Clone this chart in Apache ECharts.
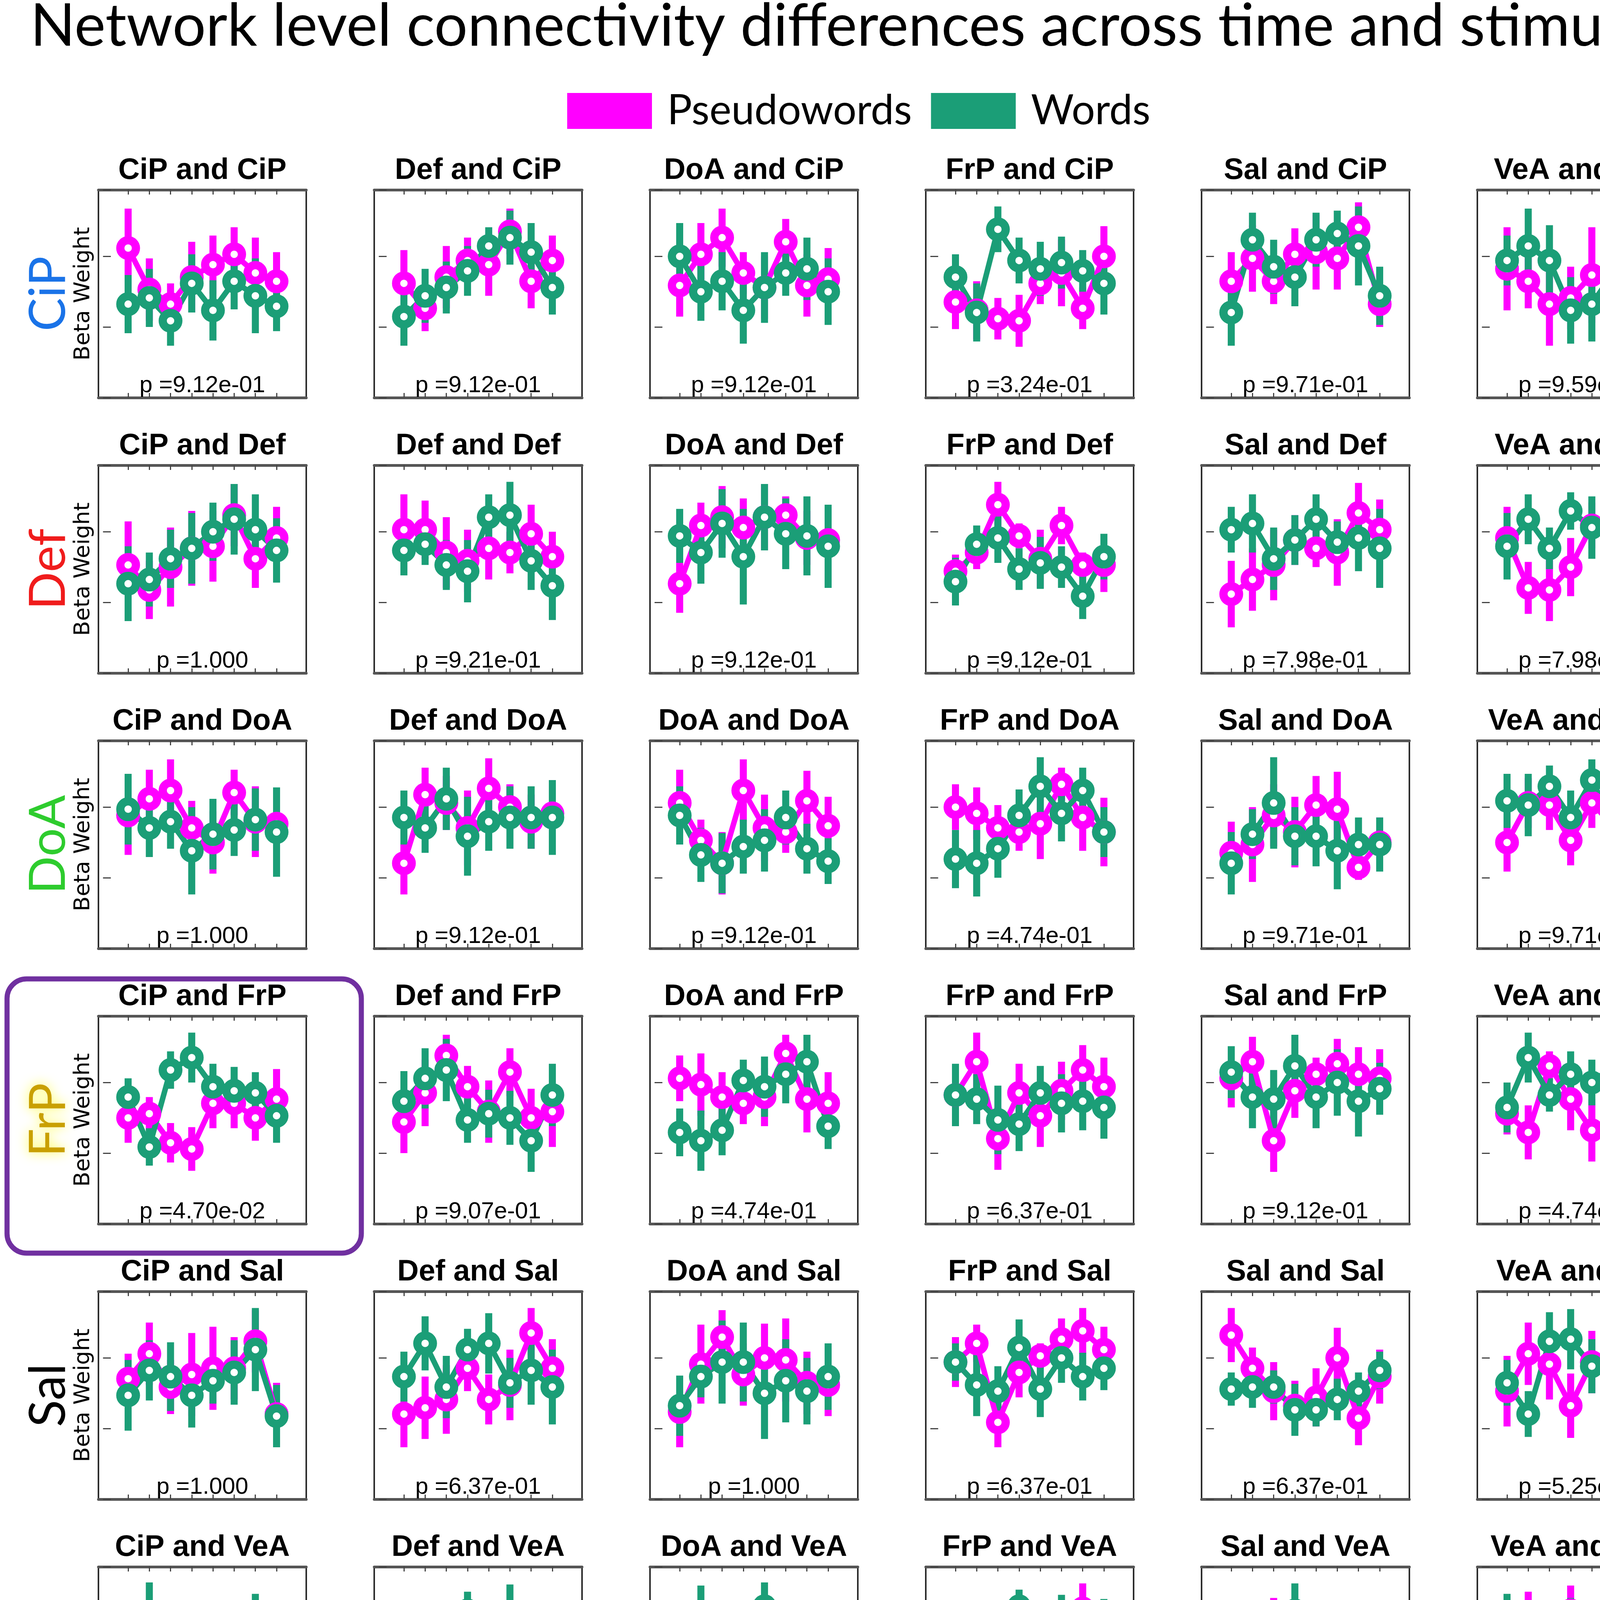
<!DOCTYPE html>
<html>
<head>
<meta charset="utf-8">
<script src="https://cdn.jsdelivr.net/npm/echarts@6.0.0/dist/echarts.min.js"></script>
<style>
  html, body { margin: 0; padding: 0; background: #fff; }
  #chart { width: 4317px; height: 4790px; }
</style>
</head>
<body>
<div id="chart"></div>
<script>
// networks, in column order (first name in a panel title) and row order (second name)
const networks = ["CiP", "Def", "DoA", "FrP", "Sal", "VeA"];
const networkColors = ["#1a73e8", "#f01c1c", "#2ecc2e", "#c9a000", "#000000", "#0b8585"];
const frames = [1, 2, 3, 4, 5, 6, 7, 8];

// p values, one row per network row
const pValues = [
    ["9.12e-01", "9.12e-01", "9.12e-01", "3.24e-01", "9.71e-01", "9.59e-01"],
    ["1.000", "9.21e-01", "9.12e-01", "9.12e-01", "7.98e-01", "7.98e-01"],
    ["1.000", "9.12e-01", "9.12e-01", "4.74e-01", "9.71e-01", "9.71e-01"],
    ["4.70e-02", "9.07e-01", "4.74e-01", "6.37e-01", "9.12e-01", "4.74e-01"],
    ["1.000", "6.37e-01", "1.000", "6.37e-01", "6.37e-01", "5.25e-01"],
    ["1.000", "9.12e-01", "9.12e-01", "4.74e-01", "4.74e-01", "9.12e-01"],
];

// beta weights (panel-normalised), each row: one array of 8 frames per column network
const pseudoCiP = [
    [0.72, 0.52, 0.45, 0.58, 0.64, 0.69, 0.60, 0.56],
    [0.55, 0.43, 0.58, 0.66, 0.64, 0.80, 0.56, 0.66],
    [0.54, 0.69, 0.77, 0.60, 0.53, 0.75, 0.54, 0.57],
    [0.46, 0.42, 0.38, 0.37, 0.55, 0.60, 0.43, 0.68],
    [0.56, 0.67, 0.56, 0.69, 0.70, 0.67, 0.82, 0.45],
    [0.62, 0.56, 0.45, 0.48, 0.59, 0.53, 0.57, 0.68],
];
const wordsCiP = [
    [0.45, 0.48, 0.37, 0.55, 0.42, 0.56, 0.49, 0.44],
    [0.39, 0.49, 0.53, 0.61, 0.73, 0.77, 0.70, 0.53],
    [0.68, 0.51, 0.56, 0.42, 0.53, 0.60, 0.62, 0.51],
    [0.58, 0.41, 0.81, 0.66, 0.62, 0.65, 0.61, 0.55],
    [0.41, 0.76, 0.63, 0.58, 0.76, 0.79, 0.73, 0.49],
    [0.66, 0.73, 0.66, 0.42, 0.45, 0.60, 0.74, 0.50],
];
const pseudoDef = [
    [0.52, 0.40, 0.51, 0.60, 0.61, 0.76, 0.55, 0.65],
    [0.69, 0.69, 0.58, 0.54, 0.60, 0.58, 0.67, 0.56],
    [0.43, 0.71, 0.75, 0.70, 0.75, 0.76, 0.65, 0.64],
    [0.49, 0.58, 0.81, 0.66, 0.55, 0.71, 0.52, 0.52],
    [0.38, 0.45, 0.52, 0.64, 0.60, 0.58, 0.77, 0.69],
    [0.65, 0.41, 0.40, 0.51, 0.71, 0.63, 0.63, 0.59],
];
const wordsDef = [
    [0.43, 0.45, 0.55, 0.60, 0.68, 0.74, 0.69, 0.59],
    [0.59, 0.62, 0.52, 0.49, 0.75, 0.76, 0.54, 0.42],
    [0.66, 0.58, 0.72, 0.56, 0.75, 0.67, 0.66, 0.61],
    [0.44, 0.62, 0.65, 0.50, 0.53, 0.51, 0.37, 0.56],
    [0.69, 0.72, 0.55, 0.64, 0.74, 0.63, 0.65, 0.60],
    [0.61, 0.74, 0.60, 0.78, 0.70, 0.78, 0.67, 0.65],
];
const pseudoDoA = [
    [0.64, 0.72, 0.76, 0.58, 0.51, 0.75, 0.61, 0.60],
    [0.41, 0.74, 0.70, 0.58, 0.77, 0.68, 0.61, 0.65],
    [0.70, 0.52, 0.41, 0.76, 0.58, 0.56, 0.71, 0.59],
    [0.68, 0.65, 0.58, 0.56, 0.60, 0.79, 0.63, 0.56],
    [0.46, 0.50, 0.64, 0.56, 0.69, 0.67, 0.39, 0.51],
    [0.51, 0.70, 0.69, 0.52, 0.70, 0.59, 0.38, 0.62],
];
const wordsDoA = [
    [0.67, 0.58, 0.61, 0.47, 0.55, 0.57, 0.62, 0.56],
    [0.63, 0.58, 0.72, 0.54, 0.61, 0.63, 0.63, 0.63],
    [0.64, 0.45, 0.41, 0.49, 0.52, 0.63, 0.48, 0.42],
    [0.43, 0.41, 0.48, 0.64, 0.78, 0.65, 0.76, 0.56],
    [0.41, 0.55, 0.70, 0.54, 0.54, 0.47, 0.50, 0.50],
    [0.71, 0.69, 0.78, 0.63, 0.81, 0.60, 0.54, 0.55],
];
const pseudoFrP = [
    [0.51, 0.53, 0.39, 0.36, 0.58, 0.58, 0.51, 0.60],
    [0.49, 0.63, 0.81, 0.66, 0.54, 0.73, 0.51, 0.54],
    [0.70, 0.67, 0.61, 0.58, 0.61, 0.82, 0.60, 0.58],
    [0.62, 0.78, 0.41, 0.63, 0.52, 0.64, 0.74, 0.66],
    [0.70, 0.78, 0.40, 0.64, 0.72, 0.77, 0.72, 0.70],
    [0.53, 0.44, 0.76, 0.60, 0.45, 0.41, 0.74, 0.54],
];
const wordsFrP = [
    [0.61, 0.37, 0.74, 0.80, 0.66, 0.64, 0.63, 0.52],
    [0.59, 0.70, 0.74, 0.50, 0.53, 0.51, 0.40, 0.62],
    [0.44, 0.40, 0.45, 0.69, 0.66, 0.72, 0.78, 0.47],
    [0.62, 0.60, 0.50, 0.48, 0.63, 0.58, 0.59, 0.56],
    [0.73, 0.61, 0.60, 0.76, 0.61, 0.68, 0.59, 0.65],
    [0.56, 0.80, 0.62, 0.72, 0.68, 0.76, 0.74, 0.69],
];
const pseudoSal = [
    [0.58, 0.70, 0.54, 0.60, 0.63, 0.63, 0.76, 0.41],
    [0.41, 0.44, 0.48, 0.63, 0.48, 0.55, 0.80, 0.63],
    [0.42, 0.65, 0.78, 0.60, 0.68, 0.67, 0.56, 0.55],
    [0.66, 0.75, 0.37, 0.61, 0.69, 0.77, 0.81, 0.72],
    [0.79, 0.63, 0.52, 0.45, 0.49, 0.68, 0.39, 0.59],
    [0.52, 0.70, 0.65, 0.45, 0.66, 0.60, 0.47, 0.43],
];
const wordsSal = [
    [0.50, 0.62, 0.59, 0.50, 0.57, 0.61, 0.72, 0.40],
    [0.59, 0.75, 0.54, 0.72, 0.75, 0.56, 0.62, 0.54],
    [0.45, 0.59, 0.66, 0.66, 0.51, 0.57, 0.52, 0.59],
    [0.66, 0.55, 0.52, 0.73, 0.53, 0.68, 0.59, 0.63],
    [0.53, 0.54, 0.54, 0.43, 0.43, 0.48, 0.52, 0.62],
    [0.56, 0.41, 0.76, 0.77, 0.64, 0.71, 0.52, 0.67],
];
const pseudoVeA = [
    [0.63, 0.50, 0.49, 0.54, 0.60, 0.54, 0.54, 0.54],
    [0.65, 0.40, 0.43, 0.52, 0.58, 0.60, 0.55, 0.52],
    [0.44, 0.64, 0.61, 0.48, 0.60, 0.60, 0.35, 0.57],
    [0.56, 0.49, 0.66, 0.64, 0.51, 0.41, 0.80, 0.54],
    [0.46, 0.65, 0.74, 0.40, 0.55, 0.69, 0.45, 0.44],
    [0.68, 0.71, 0.63, 0.79, 0.60, 0.72, 0.70, 0.63],
];
const wordsVeA = [
    [0.67, 0.75, 0.58, 0.47, 0.44, 0.53, 0.68, 0.45],
    [0.65, 0.70, 0.59, 0.79, 0.60, 0.74, 0.61, 0.56],
    [0.64, 0.77, 0.72, 0.61, 0.81, 0.52, 0.44, 0.49],
    [0.59, 0.70, 0.63, 0.81, 0.68, 0.75, 0.67, 0.71],
    [0.52, 0.49, 0.62, 0.79, 0.53, 0.55, 0.42, 0.66],
    [0.70, 0.48, 0.41, 0.70, 0.54, 0.70, 0.71, 0.70],
];

// error bar half lengths, same layout
const pseudoErrCiP = [
    [0.19, 0.15, 0.10, 0.17, 0.14, 0.13, 0.17, 0.14],
    [0.16, 0.11, 0.15, 0.11, 0.15, 0.11, 0.13, 0.12],
    [0.15, 0.15, 0.14, 0.10, 0.15, 0.11, 0.15, 0.15],
    [0.13, 0.14, 0.10, 0.125, 0.10, 0.16, 0.10, 0.145],
    [0.14, 0.16, 0.11, 0.125, 0.18, 0.15, 0.12, 0.11],
    [0.20, 0.13, 0.20, 0.15, 0.23, 0.15, 0.16, 0.18],
];
const wordsErrCiP = [
    [0.14, 0.14, 0.12, 0.14, 0.145, 0.135, 0.18, 0.12],
    [0.14, 0.13, 0.125, 0.12, 0.09, 0.13, 0.14, 0.13],
    [0.16, 0.14, 0.14, 0.16, 0.17, 0.11, 0.15, 0.16],
    [0.11, 0.14, 0.11, 0.11, 0.13, 0.125, 0.10, 0.15],
    [0.16, 0.13, 0.13, 0.14, 0.13, 0.11, 0.19, 0.14],
    [0.12, 0.18, 0.17, 0.16, 0.18, 0.19, 0.15, 0.16],
];
const pseudoErrDef = [
    [0.21, 0.14, 0.19, 0.18, 0.17, 0.15, 0.14, 0.15],
    [0.17, 0.14, 0.17, 0.15, 0.15, 0.10, 0.14, 0.12],
    [0.14, 0.11, 0.15, 0.14, 0.16, 0.09, 0.13, 0.13],
    [0.08, 0.08, 0.11, 0.06, 0.14, 0.09, 0.06, 0.13],
    [0.16, 0.15, 0.17, 0.12, 0.09, 0.16, 0.145, 0.145],
    [0.15, 0.125, 0.15, 0.14, 0.11, 0.13, 0.13, 0.13],
];
const wordsErrDef = [
    [0.18, 0.13, 0.14, 0.17, 0.14, 0.17, 0.17, 0.155],
    [0.12, 0.10, 0.12, 0.15, 0.11, 0.16, 0.14, 0.165],
    [0.13, 0.15, 0.165, 0.23, 0.16, 0.17, 0.19, 0.20],
    [0.115, 0.09, 0.12, 0.10, 0.125, 0.10, 0.11, 0.11],
    [0.11, 0.14, 0.15, 0.12, 0.12, 0.10, 0.16, 0.19],
    [0.16, 0.12, 0.10, 0.09, 0.15, 0.13, 0.19, 0.17],
];
const pseudoErrDoA = [
    [0.19, 0.14, 0.15, 0.13, 0.15, 0.11, 0.17, 0.15],
    [0.15, 0.13, 0.13, 0.18, 0.145, 0.11, 0.13, 0.13],
    [0.16, 0.10, 0.15, 0.15, 0.16, 0.10, 0.145, 0.14],
    [0.11, 0.125, 0.11, 0.09, 0.17, 0.08, 0.16, 0.165],
    [0.15, 0.18, 0.15, 0.17, 0.14, 0.18, 0.06, 0.12],
    [0.14, 0.12, 0.12, 0.12, 0.12, 0.13, 0.12, 0.10],
];
const wordsErrDoA = [
    [0.17, 0.14, 0.13, 0.21, 0.17, 0.125, 0.15, 0.215],
    [0.13, 0.12, 0.15, 0.19, 0.14, 0.15, 0.15, 0.18],
    [0.14, 0.13, 0.145, 0.13, 0.15, 0.13, 0.12, 0.11],
    [0.14, 0.16, 0.14, 0.125, 0.14, 0.135, 0.11, 0.12],
    [0.15, 0.12, 0.22, 0.14, 0.145, 0.185, 0.13, 0.13],
    [0.13, 0.15, 0.10, 0.13, 0.10, 0.12, 0.095, 0.11],
];
const pseudoErrFrP = [
    [0.12, 0.08, 0.095, 0.105, 0.12, 0.12, 0.11, 0.145],
    [0.15, 0.16, 0.10, 0.10, 0.15, 0.115, 0.14, 0.17],
    [0.11, 0.15, 0.12, 0.10, 0.14, 0.09, 0.16, 0.15],
    [0.14, 0.14, 0.15, 0.14, 0.15, 0.14, 0.12, 0.14],
    [0.14, 0.12, 0.15, 0.13, 0.08, 0.12, 0.13, 0.14],
    [0.10, 0.13, 0.07, 0.15, 0.15, 0.155, 0.14, 0.16],
];
const wordsErrFrP = [
    [0.09, 0.09, 0.09, 0.12, 0.11, 0.115, 0.10, 0.13],
    [0.145, 0.145, 0.15, 0.11, 0.115, 0.13, 0.15, 0.15],
    [0.115, 0.145, 0.12, 0.10, 0.145, 0.14, 0.13, 0.11],
    [0.15, 0.12, 0.165, 0.13, 0.13, 0.14, 0.14, 0.15],
    [0.125, 0.15, 0.14, 0.15, 0.15, 0.16, 0.17, 0.125],
    [0.12, 0.12, 0.08, 0.11, 0.11, 0.12, 0.16, 0.14],
];
const pseudoErrSal = [
    [0.12, 0.15, 0.13, 0.20, 0.20, 0.15, 0.15, 0.15],
    [0.16, 0.15, 0.165, 0.11, 0.12, 0.17, 0.12, 0.14],
    [0.17, 0.19, 0.13, 0.15, 0.165, 0.20, 0.15, 0.15],
    [0.12, 0.09, 0.12, 0.12, 0.06, 0.10, 0.11, 0.11],
    [0.13, 0.10, 0.14, 0.12, 0.14, 0.145, 0.13, 0.13],
    [0.17, 0.15, 0.17, 0.155, 0.15, 0.10, 0.15, 0.18],
];
const wordsErrSal = [
    [0.17, 0.145, 0.165, 0.155, 0.11, 0.155, 0.20, 0.15],
    [0.12, 0.13, 0.15, 0.10, 0.145, 0.12, 0.165, 0.18],
    [0.145, 0.10, 0.20, 0.19, 0.22, 0.20, 0.16, 0.16],
    [0.09, 0.15, 0.12, 0.135, 0.135, 0.12, 0.115, 0.105],
    [0.08, 0.10, 0.08, 0.125, 0.08, 0.10, 0.09, 0.09],
    [0.11, 0.11, 0.14, 0.145, 0.13, 0.11, 0.16, 0.165],
];
const pseudoErrVeA = [
    [0.21, 0.16, 0.20, 0.18, 0.21, 0.23, 0.19, 0.19],
    [0.15, 0.13, 0.18, 0.17, 0.15, 0.13, 0.19, 0.145],
    [0.13, 0.15, 0.13, 0.14, 0.14, 0.11, 0.10, 0.10],
    [0.12, 0.10, 0.11, 0.14, 0.14, 0.16, 0.12, 0.15],
    [0.13, 0.12, 0.11, 0.14, 0.09, 0.105, 0.13, 0.13],
    [0.15, 0.17, 0.15, 0.12, 0.15, 0.18, 0.16, 0.165],
];
const wordsErrVeA = [
    [0.15, 0.175, 0.22, 0.215, 0.165, 0.21, 0.19, 0.185],
    [0.18, 0.14, 0.14, 0.09, 0.13, 0.175, 0.20, 0.17],
    [0.15, 0.14, 0.09, 0.115, 0.115, 0.13, 0.115, 0.115],
    [0.13, 0.11, 0.09, 0.08, 0.075, 0.115, 0.14, 0.135],
    [0.13, 0.13, 0.12, 0.13, 0.10, 0.10, 0.115, 0.12],
    [0.17, 0.175, 0.16, 0.15, 0.145, 0.165, 0.165, 0.215],
];

const pseudoRows = [pseudoCiP, pseudoDef, pseudoDoA, pseudoFrP, pseudoSal, pseudoVeA];
const wordsRows = [wordsCiP, wordsDef, wordsDoA, wordsFrP, wordsSal, wordsVeA];
const pseudoErrRows = [pseudoErrCiP, pseudoErrDef, pseudoErrDoA, pseudoErrFrP, pseudoErrSal, pseudoErrVeA];
const wordsErrRows = [wordsErrCiP, wordsErrDef, wordsErrDoA, wordsErrFrP, wordsErrSal, wordsErrVeA];

const MAGENTA = "#ff00ff";
const GREEN = "#1b9e77";

const chart = echarts.init(document.getElementById("chart"), null, { renderer: "canvas" });

// panel geometry
const boxLeft0 = 252, boxTop0 = 486, stepX = 706, stepY = 705, boxSize = 532;

function errorBars(name, color, vals, errs, xi, yi) {
    return {
        type: "custom",
        name: name,
        xAxisIndex: xi,
        yAxisIndex: yi,
        silent: true,
        data: frames.map((f, k) => [f, vals[k] - errs[k], vals[k] + errs[k]]),
        encode: { x: 0, y: [1, 2] },
        renderItem: function (params, api) {
            const lo = api.coord([api.value(0), api.value(1)]);
            const hi = api.coord([api.value(0), api.value(2)]);
            return {
                type: "line",
                shape: { x1: lo[0], y1: lo[1], x2: hi[0], y2: hi[1] },
                style: { stroke: color, lineWidth: 18 },
            };
        },
    };
}

function meanLine(name, color, vals, xi, yi) {
    return {
        type: "line",
        name: name,
        xAxisIndex: xi,
        yAxisIndex: yi,
        silent: true,
        data: frames.map((f, k) => [f, vals[k]]),
        symbol: "circle",
        symbolSize: 40,
        showSymbol: true,
        lineStyle: { color: color, width: 14 },
        itemStyle: { color: "#fff", borderColor: color, borderWidth: 21 },
    };
}

const grids = [], xAxes = [], yAxes = [], series = [], texts = [];

function text(x, y, str, opts, rotation) {
    texts.push({
        type: "text",
        x: x,
        y: y,
        rotation: rotation || 0,
        z: 100,
        style: Object.assign({ text: str, align: "center", verticalAlign: "middle", fill: "#000" }, opts),
    });
}

const tickStyle = { color: "#444", width: 3 };

for (let r = 0; r < 6; r++) {
    for (let c = 0; c < 6; c++) {
        const i = r * 6 + c;
        const left = boxLeft0 + c * stepX;
        const top = boxTop0 + r * stepY;
        grids.push({ left: left, top: top, width: boxSize, height: boxSize, show: true, borderColor: "#2b2b2b", borderWidth: 4, backgroundColor: "#fff" });
        // bottom axis (with frame labels on the last row) and a top axis carrying only ticks
        xAxes.push({
            gridIndex: i,
            type: "value",
            position: "bottom",
            min: -0.4,
            max: 9.4,
            axisLine: { show: true, onZero: false, lineStyle: { color: "#555", width: 7 } },
            axisTick: { show: true, inside: true, length: 12, customValues: frames, lineStyle: tickStyle },
            axisLabel: { show: r === 5, customValues: frames, margin: 10, fontSize: 40, fontFamily: "Liberation Sans", color: "#000" },
            splitLine: { show: false },
        });
        xAxes.push({
            gridIndex: i,
            type: "value",
            position: "top",
            min: -0.4,
            max: 9.4,
            axisLine: { show: true, onZero: false, lineStyle: { color: "#555", width: 7 } },
            axisTick: { show: true, inside: true, length: 12, customValues: frames, lineStyle: tickStyle },
            axisLabel: { show: false },
            splitLine: { show: false },
        });
        yAxes.push({
            gridIndex: i,
            type: "value",
            position: "left",
            min: 0,
            max: 1,
            interval: 0.34,
            axisLine: { show: false },
            axisTick: { show: true, inside: true, length: 10, lineStyle: tickStyle },
            axisLabel: { show: false },
            splitLine: { show: false },
        });
        yAxes.push({
            gridIndex: i,
            type: "value",
            position: "right",
            min: 0,
            max: 1,
            interval: 0.34,
            axisLine: { show: false },
            axisTick: { show: true, inside: true, length: 10, lineStyle: tickStyle },
            axisLabel: { show: false },
            splitLine: { show: false },
        });
        const xi = 2 * i, yi = 2 * i;
        series.push(errorBars("Pseudowords", MAGENTA, pseudoRows[r][c], pseudoErrRows[r][c], xi, yi));
        series.push(meanLine("Pseudowords", MAGENTA, pseudoRows[r][c], xi, yi));
        series.push(errorBars("Words", GREEN, wordsRows[r][c], wordsErrRows[r][c], xi, yi));
        series.push(meanLine("Words", GREEN, wordsRows[r][c], xi, yi));

        const cx = left + boxSize / 2;
        text(cx, top - 49, networks[c] + " and " + networks[r], { fontSize: 76, fontWeight: "bold", fontFamily: "Liberation Sans" });
        text(cx, top + boxSize - 31, "p =" + pValues[r][c], { fontSize: 60, fontFamily: "Liberation Sans" });
    }
    const midY = boxTop0 + r * stepY + boxSize / 2;
    text(213, midY, "Beta Weight", { fontSize: 56, fontFamily: "DejaVu Sans" }, Math.PI / 2);
    const glow = networks[r] === "FrP" ? { textShadowColor: "#ffff40", textShadowBlur: 30 } : {};
    text(125, midY, networks[r], Object.assign({ fontSize: 128, fontFamily: "Lato", fill: networkColors[r] }, glow), Math.PI / 2);
}

for (let c = 0; c < 6; c++) {
    const cx = boxLeft0 + c * stepX + boxSize / 2;
    text(cx, 4622, "Frame", { fontSize: 64, fontFamily: "Liberation Sans" });
    const glow = networks[c] === "FrP" ? { textShadowColor: "#ffff40", textShadowBlur: 30 } : {};
    text(cx, 4722, networks[c], Object.assign({ fontSize: 132, fontFamily: "Lato", fill: networkColors[c] }, glow));
}

text(2183, 68, "Network level connectivity differences across time and stimulus", { fontSize: 151, fontFamily: "Lato" });

// highlight box around the CiP / FrP panel
texts.push({
    type: "rect",
    z: 90,
    shape: { x: 18, y: 2506, width: 907, height: 702, r: 50 },
    style: { fill: "none", stroke: "#7030a0", lineWidth: 13 },
});

chart.setOption({
    animation: false,
    backgroundColor: "#fff",
    legend: {
        left: 1447,
        top: 226,
        itemWidth: 217,
        itemHeight: 92,
        itemGap: 49,
        selectedMode: false,
        data: [
            { name: "Pseudowords", icon: "rect", itemStyle: { color: MAGENTA, borderWidth: 0 } },
            { name: "Words", icon: "rect", itemStyle: { color: GREEN, borderWidth: 0 } },
        ],
        textStyle: { fontFamily: "Lato", fontSize: 106, color: "#000", padding: [0, 0, 0, 34] },
    },
    grid: grids,
    xAxis: xAxes,
    yAxis: yAxes,
    series: series,
    graphic: texts,
});
</script>
</body>
</html>
